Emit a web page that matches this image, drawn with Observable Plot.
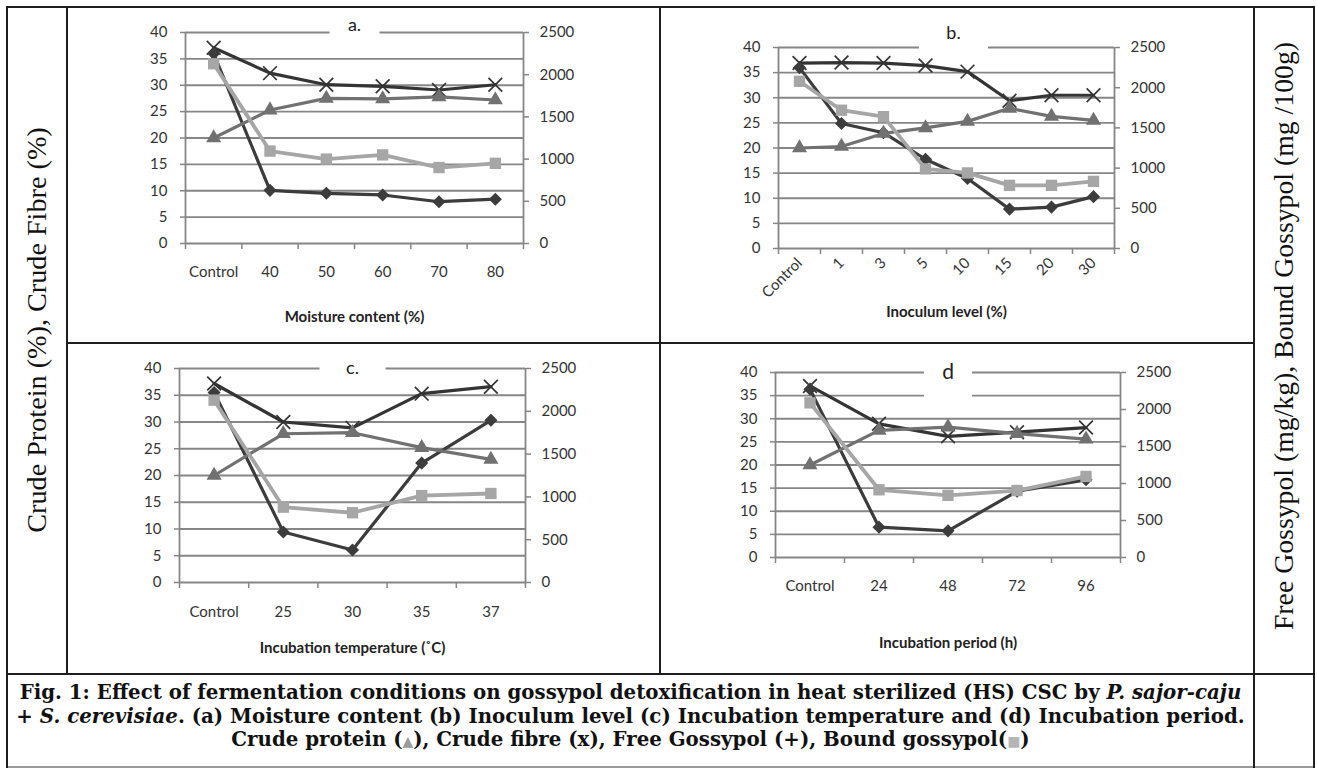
<!DOCTYPE html>
<html>
<head>
<meta charset="utf-8">
<script src="https://cdn.jsdelivr.net/npm/d3@7"></script>
<script src="https://cdn.jsdelivr.net/npm/@observablehq/plot@0.6"></script>
<style>
  body { margin: 0; background: #fff; }
  #page { position: relative; width: 1317px; height: 769px; overflow: hidden; background: #fff; }
  .ln { position: absolute; background: #1e1e1e; }
  .panel { position: absolute; }
  .side { position: absolute; white-space: nowrap; font-family: "Liberation Serif", serif; font-size: 22px; color: #111;
          transform: translate(-50%, -50%) rotate(-90deg); }
  #cap { position: absolute; left: 8px; top: 681px; width: 1245px; text-align: center; font-family: "DejaVu Serif", serif;
         font-weight: bold; font-size: 19px; line-height: 23.5px; color: #111; white-space: nowrap; }
</style>
</head>
<body>
<div id="page"></div>
<script>
// ---------- data ----------
const leftTicks = [0, 5, 10, 15, 20, 25, 30, 35, 40];
const rightTicks = [0, 500, 1000, 1500, 2000, 2500];

const catsA = ["Control", "40", "50", "60", "70", "80"];
const proteinA = [20, 25.3, 27.5, 27.4, 27.8, 27.2];
const fibreA = [37.1, 32.3, 30.1, 29.8, 29.1, 30.1];
const freeA = [2250, 630, 595, 575, 495, 525];
const boundA = [2130, 1095, 1000, 1050, 900, 950];

const catsB = ["Control", "1", "3", "5", "10", "15", "20", "30"];
const proteinB = [20, 20.3, 22.9, 24, 25.3, 27.9, 26.3, 25.5];
const fibreB = [36.9, 37, 36.9, 36.4, 35.2, 29.4, 30.5, 30.5];
const freeB = [2250, 1555, 1440, 1110, 870, 490, 515, 645];
const boundB = [2080, 1720, 1640, 990, 940, 785, 785, 835];

const catsC = ["Control", "25", "30", "35", "37"];
const proteinC = [20, 27.8, 28, 25.2, 23];
const fibreC = [37.2, 30, 28.9, 35.3, 36.6];
const freeC = [2220, 590, 380, 1395, 1895];
const boundC = [2130, 880, 815, 1015, 1040];

const catsD = ["Control", "24", "48", "72", "96"];
const proteinD = [20, 27.5, 28.2, 26.8, 25.6];
const fibreD = [37.1, 28.9, 26.2, 27.1, 28.1];
const freeD = [2275, 410, 360, 895, 1050];
const boundD = [2090, 915, 840, 905, 1095];

const titles = ["a.", "b.", "c.", "d"];
const xLabels = ["Moisture content (%)", "Inoculum level (%)", "Incubation temperature (˚C)", "Incubation period (h)"];
const leftLabel = "Crude Protein (%), Crude Fibre (%)";
const rightLabel = "Free Gossypol (mg/kg), Bound Gossypol (mg /100g)";
const captionLines = [
  ["Fig. 1: Effect of fermentation conditions on gossypol detoxification in heat sterilized (HS) CSC by ", ["i", "P. sajor-caju"]],
  ["+ ", ["i", "S. cerevisiae"], ". (a) Moisture content (b) Inoculum level (c) Incubation temperature and (d) Incubation period."],
  ["Crude protein (", ["tri", "▲"], "), Crude fibre (x), Free Gossypol (+), Bound gossypol(", ["sq", "■"], ")"]
];

// ---------- styles ----------
const GRID = "#868686";
const TXT = "#333";
const k = 40 / 2500; // right axis -> left axis scale factor
const seriesDefs = [
  {key: "fibre", right: false, stroke: "#343434", symbol: "times", fill: "none", mstroke: "#343434", r: 6.3, sw: 3.2},
  {key: "free", right: true, stroke: "#3c3c3c", symbol: "diamond2", fill: "#3c3c3c", mstroke: "none", r: 5.9, sw: 3.2},
  {key: "protein", right: false, stroke: "#717171", symbol: "triangle", fill: "#717171", mstroke: "none", r: 5.6, sw: 3.2},
  {key: "bound", right: true, stroke: "#a6a6a6", symbol: "square", fill: "#a6a6a6", mstroke: "none", r: 6.4, sw: 3.8}
];

const panels = [
  {cats: catsA, protein: proteinA, fibre: fibreA, free: freeA, bound: boundA, title: titles[0], xlabel: xLabels[0],
   left: 68, top: 8, w: 590, h: 334, ml: 117, mr: 135, mt: 24, mb: 99, tdy: -7, tdx: 0, tfs: 18, catPad: 23, rot: 0, xdy: 74,
   box: {w: 50, y1: -16, y2: 4}},
  {cats: catsB, protein: proteinB, fibre: fibreB, free: freeB, bound: boundB, title: titles[1], xlabel: xLabels[1],
   left: 661, top: 8, w: 591, h: 334, ml: 117, mr: 138, mt: 39, mb: 94, tdy: -14, tdx: 7, tfs: 18, catPad: 12, rot: -45, xdy: 64,
   box: {w: 69, y1: -24, y2: 4}},
  {cats: catsC, protein: proteinC, fibre: fibreC, free: freeC, bound: boundC, title: titles[2], xlabel: xLabels[2],
   left: 68, top: 345, w: 590, h: 328, ml: 111, mr: 133, mt: 23, mb: 91, tdy: 0, tdx: 0, tfs: 18, catPad: 24, rot: 0, xdy: 66,
   box: {w: 66, y1: -10, y2: 8}},
  {cats: catsD, protein: proteinD, fibre: fibreD, free: freeD, bound: boundD, title: titles[3], xlabel: xLabels[3],
   left: 661, top: 345, w: 591, h: 328, ml: 114, mr: 132, mt: 27, mb: 116, tdy: 0, tdx: 0, tfs: 21, catPad: 23, rot: 0, xdy: 86,
   box: {w: 48, y1: -12, y2: 28}}
];

const page = document.getElementById("page");

function drawPanel(p) {
  const n = p.cats.length;
  const idx = d3.range(n);
  const bounds = d3.range(n + 1).map(i => i - 0.5);
  const seriesMarks = [];
  for (const s of seriesDefs) {
    const rows = p[s.key].map((v, i) => ({i, v}));
    const yv = s.right ? (d => d.v * k) : (d => d.v);
    seriesMarks.push(Plot.line(rows, {x: "i", y: yv, stroke: s.stroke, strokeWidth: s.sw, strokeLinejoin: "round"}));
    seriesMarks.push(Plot.dot(rows, {x: "i", y: yv, symbol: () => s.symbol, r: s.r, fill: s.fill,
      stroke: s.mstroke, strokeWidth: s.symbol === "times" ? 1.7 : 0}));
  }
  const chart = Plot.plot({
    width: p.w, height: p.h,
    marginLeft: p.ml, marginRight: p.mr, marginTop: p.mt, marginBottom: p.mb,
    x: {type: "linear", domain: [-0.5, n - 0.5], axis: null, label: null},
    y: {domain: [0, 40], axis: null, label: null},
    symbol: {type: "identity"},
    style: {fontFamily: "Lato, 'Open Sans', sans-serif", fontSize: "15px", background: "transparent", overflow: "visible"},
    marks: [
      Plot.ruleY(leftTicks, {stroke: GRID, strokeWidth: 1.8}),
      Plot.ruleX([-0.5, n - 0.5], {stroke: GRID, strokeWidth: 1.8}),
      Plot.axisY({ticks: leftTicks, tickSize: 5, tickPadding: 13, stroke: GRID, strokeWidth: 1.5, fill: TXT, tickFormat: d => String(d), label: null}),
      Plot.axisY({anchor: "right", ticks: rightTicks.map(v => v * k), tickSize: 5, tickPadding: 11, stroke: GRID, strokeWidth: 1.5, fill: TXT,
        tickFormat: d => String(Math.round(d / k)), label: null}),
      Plot.axisX({ticks: bounds, tickSize: 6, tickFormat: () => "", stroke: GRID, strokeWidth: 1.5, label: null}),
      Plot.axisX({ticks: idx, tickSize: 0, tickPadding: p.catPad, tickFormat: i => p.cats[i], fill: TXT, label: null,
        ...(p.rot ? {tickRotate: p.rot} : {})}),
      ...seriesMarks,
      Plot.text([p.title], {frameAnchor: "top", lineAnchor: "middle", dy: p.tdy, dx: p.tdx, fontSize: p.tfs, fill: "#222"}),
      Plot.text([p.xlabel], {frameAnchor: "bottom", lineAnchor: "middle", dy: p.xdy, fontWeight: "bold", fontSize: 15, fill: "#222"})
    ]
  });
  const holder = document.createElement("div");
  holder.className = "panel";
  holder.style.left = p.left + "px";
  holder.style.top = p.top + "px";
  holder.appendChild(chart);
  page.appendChild(holder);
  // white title box breaking the gridlines
  const svg = holder.querySelector("svg");
  const t = Array.from(svg.querySelectorAll("text")).find(el => el.textContent === p.title);
  if (t) {
    const sr = svg.getBoundingClientRect();
    const tr = t.getBoundingClientRect();
    const cx = tr.left + tr.width / 2 - sr.left;
    const rect = document.createElementNS("http://www.w3.org/2000/svg", "rect");
    rect.setAttribute("x", cx - p.box.w / 2);
    rect.setAttribute("y", p.mt + p.box.y1);
    rect.setAttribute("width", p.box.w);
    rect.setAttribute("height", p.box.y2 - p.box.y1);
    rect.setAttribute("fill", "#fff");
    const g = t.closest("g");
    g.parentNode.insertBefore(rect, g);
  }
}
panels.forEach(drawPanel);

// ---------- table lines ----------
function hline(x1, x2, y, w = 2, c = "#1e1e1e") {
  const d = document.createElement("div"); d.className = "ln";
  Object.assign(d.style, {left: x1 + "px", top: y + "px", width: (x2 - x1) + "px", height: w + "px", background: c});
  page.appendChild(d);
}
function vline(x, y1, y2, w = 2, c = "#1e1e1e") {
  const d = document.createElement("div"); d.className = "ln";
  Object.assign(d.style, {left: x + "px", top: y1 + "px", width: w + "px", height: (y2 - y1) + "px", background: c});
  page.appendChild(d);
}
hline(6, 1315, 6);
hline(66, 1253, 342);
hline(6, 1315, 673);
hline(6, 1315, 766, 2, "#9a9a9a");
vline(6, 6, 768);
vline(66, 6, 674);
vline(659, 6, 674);
vline(1253, 6, 768);
vline(1313, 6, 768);

// ---------- side labels ----------
function sideLabel(text, cx, cy, target) {
  const d = document.createElement("div");
  d.className = "side";
  d.textContent = text;
  d.style.left = cx + "px";
  d.style.top = cy + "px";
  page.appendChild(d);
  const base = parseFloat(getComputedStyle(d).fontSize);
  d.style.fontSize = (base * target / d.offsetWidth) + "px";
}
sideLabel(leftLabel, 37, 330, 405);
sideLabel(rightLabel, 1284, 336, 588);

// ---------- caption ----------
const cap = document.createElement("div");
cap.id = "cap";
captionLines.forEach((parts, li) => {
  const line = document.createElement("span");
  line.className = "capline";
  line.style.display = "inline-block";
  parts.forEach(part => {
    if (typeof part === "string") line.appendChild(document.createTextNode(part));
    else {
      const s = document.createElement(part[0] === "i" ? "i" : "span");
      s.textContent = part[1];
      if (part[0] === "tri") { s.style.color = "#9a9a9a"; s.style.fontSize = "0.7em"; }
      if (part[0] === "sq") { s.style.color = "#b5b5b5"; s.style.fontSize = "0.7em"; }
      line.appendChild(s);
    }
  });
  cap.appendChild(line);
  if (li < captionLines.length - 1) cap.appendChild(document.createElement("br"));
});
page.appendChild(cap);
// fit the first line to the cell width (as in the reference), without exceeding the line pitch
const firstLine = cap.querySelector("span.capline");
const baseCap = parseFloat(getComputedStyle(cap).fontSize);
let fs = baseCap * 1222 / firstLine.offsetWidth;
if (fs > 20.2) {
  cap.style.fontSize = "20.2px";
  const extra = (1222 - firstLine.offsetWidth) / firstLine.textContent.length;
  cap.style.letterSpacing = Math.min(1, Math.max(0, extra)) + "px";
} else {
  cap.style.fontSize = fs + "px";
}
</script>
</body>
</html>
